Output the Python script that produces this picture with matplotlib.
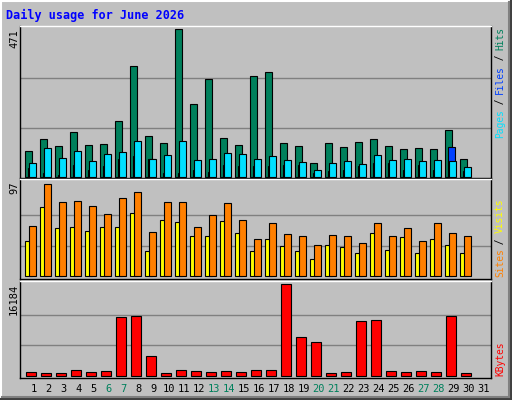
import matplotlib
matplotlib.use("Agg")
import matplotlib.pyplot as plt
from matplotlib.lines import Line2D

days = list(range(1, 32))
hits = [81, 119, 97, 142, 100, 103, 177, 353, 129, 107, 471, 231, 311, 123, 100,
        321, 334, 107, 97, 43, 107, 94, 110, 119, 97, 87, 91, 87, 148, 55, 0]
files = [43, 91, 59, 81, 49, 71, 78, 113, 55, 68, 113, 52, 55, 75, 71,
         55, 65, 52, 46, 20, 43, 49, 39, 68, 52, 55, 49, 52, 49, 30, 0]
pages = [27, 11, 7, 36, 23, 33, 55, 65, 55, 11, 11, 20, 14, 36, 33,
         33, 33, 36, 36, 11, 17, 23, 33, 43, 43, 20, 36, 20, 94, 17, 0]
visits = [53, 97, 78, 79, 74, 66, 83, 89, 47, 78, 78, 52, 65, 77, 59,
          39, 56, 45, 42, 33, 44, 43, 35, 56, 43, 51, 37, 56, 46, 42, 0]
sites = [37, 73, 51, 52, 48, 52, 52, 67, 27, 59, 57, 43, 43, 58, 46,
         27, 39, 32, 27, 18, 33, 31, 25, 46, 28, 41, 25, 39, 33, 25, 0]
kbytes = [591, 413, 413, 945, 591, 768, 10337, 10514, 3426, 413, 945, 768, 591, 768, 591,
          945, 945, 16184, 6793, 5907, 413, 591, 9628, 9806, 768, 591, 768, 591, 10514, 413, 0]
weekend = {6, 7, 13, 14, 20, 21, 27, 28}

W, H = 512, 400
BG = "#c0c0c0"
MONO = "DejaVu Sans Mono"
fig = plt.figure(figsize=(W / 100, H / 100), dpi=100, facecolor=BG)


def fy(y):
    return 1 - y / H


def fx(x):
    return x / W


def make_ax(top, bot, base, vtop, vmax):
    # axes from pixel row top..bot; value 0 at row base, vmax at row vtop
    ax = fig.add_axes([fx(20), fy(bot), fx(471), (bot - top) / H])
    s = vmax / (base - vtop)
    ax.set_ylim(-(bot - base) * s, vmax + (vtop - top) * s)
    ax.set_xlim(0, 471 / 15)
    ax.set_facecolor(BG)
    for k in (1, 2):
        ax.axhline(vmax * k / 3, color="#808080", lw=1, zorder=0)
    ax.set_xticks([])
    ax.set_yticks([])
    for sp in ax.spines.values():
        sp.set_color("black")
        sp.set_linewidth(1)
    ax.spines["top"].set_color("white")
    return ax


def bars(ax, offset, width, vals, color):
    # skip empty days so no outline is drawn on the baseline
    xs = [d - 1 + offset / 15 for d, v in zip(days, vals) if v > 0]
    vs = [v for v in vals if v > 0]
    ax.bar(xs, vs, width / 15, color=color, edgecolor="black", linewidth=0.8, align="edge")


ax1 = make_ax(26, 178, 176.7, 29.3, 471)
bars(ax1, 5.3, 7, hits, "#00805c")
bars(ax1, 7.7, 7, pages, "#0040ff")
bars(ax1, 9.3, 7, files, "#00e0ff")

ax2 = make_ax(179, 279, 276.3, 184.3, 97)
bars(ax2, 5.3, 7, sites, "#ffff00")
bars(ax2, 9.3, 7, visits, "#ff8000")

ax3 = make_ax(281, 378, 375.7, 284.3, max(kbytes))
bars(ax3, 6.3, 10, kbytes, "#ff0000")

# max value labels on the left
for lab, y in (("471", 29), ("97", 181), ("16184", 284)):
    fig.text(fx(14), fy(y), lab, rotation=90, ha="center", va="top",
             family=MONO, fontsize=7.5, color="black")

# right side legends, rotated, reading bottom to top
cw = 5.5


def side(parts, ybot):
    n = 0
    for txt, col in parts:
        fig.text(fx(500), fy(ybot - n * cw), txt, rotation=90, ha="center",
                 va="bottom", family=MONO, fontsize=6.9, color=col)
        n += len(txt)


side([("Pages", "#00e0ff"), (" / ", "black"), ("Files", "#0040ff"),
      (" / ", "black"), ("Hits", "#00805c")], 138)
side([("Sites", "#ff8000"), (" / ", "black"), ("Visits", "#ffff00")], 277)
side([("KBytes", "#ff0000")], 376)

# day labels
for d in days:
    fig.text(fx(20 + (d - 1) * 15 + 13.5), fy(389), str(d), ha="center", va="center",
             family=MONO, fontsize=7.5,
             color="#00805c" if d in weekend else "black")

fig.text(fx(6), fy(15), "Daily usage for June 2026", ha="left", va="center",
         family=MONO, fontsize=8.5, fontweight="bold", color="#0000ff")

# 3D frame
frame = [((0, 511), (0.5, 0.5), "white"), ((0.5, 0.5), (0, 399), "white"),
         ((0, 511), (398.5, 398.5), "#404040"), ((510.5, 510.5), (0, 399), "#404040"),
         ((2, 509), (396.5, 396.5), "#808080"), ((508.5, 508.5), (2, 397), "#808080")]
for xs, ys, c in frame:
    fig.add_artist(Line2D([fx(v) for v in xs], [fy(v) for v in ys], color=c, lw=1.5))

fig.savefig("out.png", dpi=100, facecolor=BG)
